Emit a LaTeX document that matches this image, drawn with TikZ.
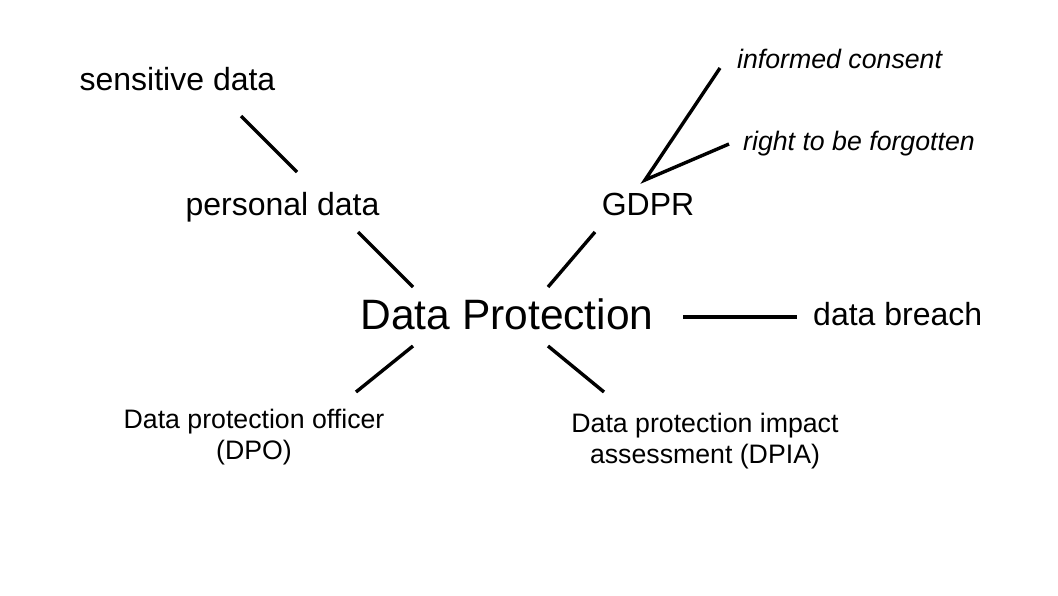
\documentclass[tikz,border=0pt]{standalone}
\usepackage{fontspec}
\setmainfont{Liberation Sans}
\begin{document}
\begin{tikzpicture}[x=1pt,y=-1pt,
  big/.style={inner sep=0pt,anchor=base,font=\fontsize{42.5}{50}\selectfont},
  mid/.style={inner sep=0pt,anchor=base,font=\fontsize{32}{38}\selectfont},
  midw/.style={inner sep=0pt,anchor=base west,font=\fontsize{32}{38}\selectfont},
  ital/.style={inner sep=0pt,anchor=base west,font=\fontsize{26.7}{32}\selectfont\itshape},
  small/.style={inner sep=0pt,anchor=base,align=center,font=\fontsize{26.7}{31}\selectfont},
  link/.style={line width=3.4pt}]
\useasboundingbox (0,0) rectangle (1058,595);
\node[mid] (sd) at (177.5,90) {sensitive data};
\node[mid] (pd) at (282.5,215) {personal data};
\node[mid] (gd) at (648,215) {GDPR};
\node[ital] (ic) at (737,68) {informed consent};
\node[ital] (rf) at (743,150) {right to be forgotten};
\node[big] (dp) at (507,329) {Data Protection};
\node[midw] (db) at (813,325) {data breach};
\node[small] (dpo) at (254,459) {Data protection officer\\(DPO)};
\node[small] (dpia) at (705,463) {Data protection impact\\assessment (DPIA)};
\draw[link] ([shift={(63.5,26)}]sd.base) -- ([shift={(14.5,-43)}]pd.base);
\draw[link] ([shift={(75.5,17)}]pd.base) -- ([shift={(-94,-42)}]dp.base);
\draw[link] ([shift={(-53,17)}]gd.base) -- ([shift={(41,-42)}]dp.base);
\draw[link] ([shift={(-17,0)}]ic.base west) -- ([shift={(-3,-35)}]gd.base) -- ([shift={(-14,-6)}]rf.base west);
\draw[link] ([shift={(176,-12)}]dp.base) -- ([shift={(-16,-8)}]db.base west);
\draw[link] ([shift={(-94,17)}]dp.base) -- ([shift={(102,-67)}]dpo.base);
\draw[link] ([shift={(41,17)}]dp.base) -- ([shift={(-101,-71)}]dpia.base);
\end{tikzpicture}
\end{document}
